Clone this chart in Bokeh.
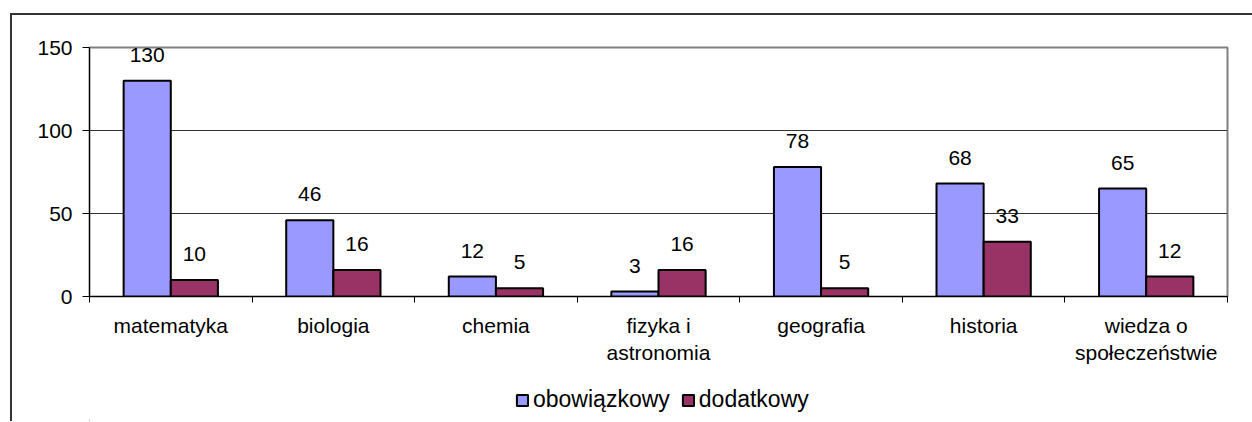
from bokeh.plotting import figure
from bokeh.layouts import column
from bokeh.models import (Range1d, FixedTicker, ColumnDataSource, Legend, LegendItem)
from bokeh.embed import file_html
from bokeh.resources import INLINE

categories = ["matematyka", "biologia", "chemia", "fizyka i\nastronomia",
              "geografia", "historia", "wiedza o\nspołeczeństwie"]
obowiazkowy = [130, 46, 12, 3, 78, 68, 65]
dodatkowy = [10, 16, 5, 16, 5, 33, 12]
series_names = ["obowiązkowy", "dodatkowy"]
colors = ["#9999FF", "#993366"]
y_ticks = [0, 50, 100, 150]

FONT = "Liberation Sans"
FS = "21px"
BW = 0.29

centers = [i + 0.5 for i in range(len(categories))]

p = figure(width=1240, height=360, output_backend="svg", toolbar_location=None,
           x_range=Range1d(0, len(categories)), y_range=Range1d(0, 150),
           min_border_left=77, min_border_right=25, min_border_top=32,
           min_border_bottom=79)
p.background_fill_color = "white"
p.border_fill_color = "white"
p.outline_line_color = "#808080"
p.outline_line_width = 2

src1 = ColumnDataSource(dict(x=[c - BW / 2 for c in centers], top=obowiazkowy,
                             lab=[str(v) for v in obowiazkowy]))
src2 = ColumnDataSource(dict(x=[c + BW / 2 for c in centers], top=dodatkowy,
                             lab=[str(v) for v in dodatkowy]))

p.vbar(x="x", top="top", bottom=0, width=BW, source=src1,
       fill_color=colors[0], line_color="black", line_width=2)
p.vbar(x="x", top="top", bottom=0, width=BW, source=src2,
       fill_color=colors[1], line_color="black", line_width=2)

for s in (src1, src2):
    p.text(x="x", y="top", text="lab", source=s, text_align="center",
           text_baseline="alphabetic", y_offset=-26, text_font_size=FS,
           text_color="black", text_font={"value": FONT})

xa = p.xaxis[0]
xa.ticker = FixedTicker(ticks=centers, minor_ticks=list(range(len(categories) + 1)))
xa.major_label_overrides = {c: lab for c, lab in zip(centers, categories)}
xa.major_tick_out = 0
xa.major_tick_in = 0
xa.minor_tick_out = 6
xa.minor_tick_in = 0
xa.minor_tick_line_color = "black"
xa.axis_line_color = "black"
xa.major_label_standoff = 11
xa.major_label_text_font = FONT
xa.major_label_text_font_size = FS
xa.major_label_text_color = "black"

ya = p.yaxis[0]
ya.ticker = FixedTicker(ticks=y_ticks)
ya.major_tick_out = 7
ya.major_tick_in = 0
ya.minor_tick_out = 0
ya.minor_tick_in = 0
ya.axis_line_color = "black"
ya.major_tick_line_color = "black"
ya.major_label_standoff = 10
ya.major_label_text_font = FONT
ya.major_label_text_font_size = FS
ya.major_label_text_color = "black"

p.xgrid.visible = False
p.ygrid.ticker = FixedTicker(ticks=[50, 100])
p.ygrid.grid_line_color = "#333333"
p.ygrid.grid_line_width = 1

# legend figure
lf = figure(width=1240, height=46, output_backend="svg", toolbar_location=None,
            x_range=Range1d(0, 1), y_range=Range1d(0, 1),
            min_border=0, min_border_left=0, min_border_right=0,
            min_border_top=0, min_border_bottom=0)
lf.axis.visible = False
lf.grid.visible = False
lf.outline_line_color = None
lf.border_fill_color = "white"
lr1 = lf.vbar(x=[-5], top=[-5], width=0.1, fill_color=colors[0],
              line_color="black", line_width=2)
lr2 = lf.vbar(x=[-5], top=[-5], width=0.1, fill_color=colors[1],
              line_color="black", line_width=2)
legend = Legend(items=[LegendItem(label=series_names[0], renderers=[lr1]),
                       LegendItem(label=series_names[1], renderers=[lr2])],
                orientation="horizontal", location=(426, 8),
                label_text_font=FONT, label_text_font_size="23px",
                label_text_color="black",
                glyph_width=14, glyph_height=14, label_standoff=4, spacing=11,
                border_line_color=None, background_fill_alpha=0,
                padding=0, margin=0)
lf.add_layout(legend, "center")

layout = column(p, lf, spacing=0,
                styles={"margin-left": "10px", "margin-top": "13px",
                        "border-left": "2px solid #333333",
                        "border-top": "2px solid #333333"})

open("out.html", "w").write(file_html(layout, INLINE))
